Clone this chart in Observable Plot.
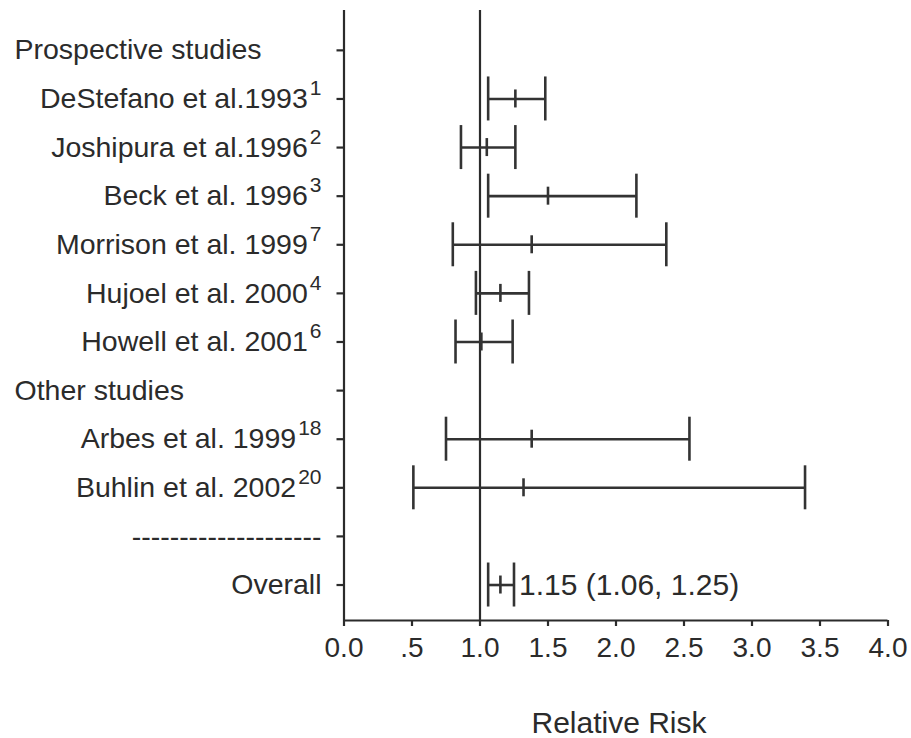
<!DOCTYPE html>
<html>
<head>
<meta charset="utf-8">
<script src="https://cdn.jsdelivr.net/npm/d3@7"></script>
<script src="https://cdn.jsdelivr.net/npm/@observablehq/plot@0.6"></script>
<style>
  html, body { margin: 0; padding: 0; background: #fff; }
  #chart { width: 911px; height: 738px; }
</style>
</head>
<body>
<div id="chart"></div>
<script>
// ---- Data ----
const rowLabels = [
  "Prospective studies",
  "DeStefano et al.1993",
  "Joshipura et al.1996",
  "Beck et al. 1996",
  "Morrison et al. 1999",
  "Hujoel et al. 2000",
  "Howell et al. 2001",
  "Other studies",
  "Arbes et al. 1999",
  "Buhlin et al. 2002",
  "--------------------",
  "Overall"
];
const rowRefs  = ["", "1", "2", "3", "7", "4", "6", "", "18", "20", "", ""];
const rowKinds = ["header", "study", "study", "study", "study", "study", "study",
                  "header", "study", "study", "sep", "overall"];
const rowRR = [null, 1.26, 1.05, 1.50, 1.38, 1.15, 1.01, null, 1.38, 1.32, null, 1.15];
const rowLo = [null, 1.06, 0.86, 1.06, 0.80, 0.97, 0.82, null, 0.75, 0.51, null, 1.06];
const rowHi = [null, 1.48, 1.26, 2.15, 2.37, 1.36, 1.24, null, 2.54, 3.39, null, 1.25];

const xTicks = [0, 0.5, 1, 1.5, 2, 2.5, 3, 3.5, 4];
const xTickLabels = ["0.0", ".5", "1.0", "1.5", "2.0", "2.5", "3.0", "3.5", "4.0"];
const xLabel = "Relative Risk";
const referenceRR = 1;
const yDomain = [-0.82, 11.73];

const rows = rowLabels.map((label, i) => ({
  row: i, label, ref: rowRefs[i], kind: rowKinds[i],
  rr: rowRR[i], lo: rowLo[i], hi: rowHi[i]
}));
const est = rows.filter(d => d.rr != null);
const headers = rows.filter(d => d.kind === "header");
const named = rows.filter(d => d.kind !== "header");
const overall = rows.filter(d => d.kind === "overall");
const xTickData = xTicks.map((v, i) => ({v, label: xTickLabels[i]}));

const ink = "#2b2b2b";
const barInk = "#333";
const font = "'Liberation Sans', Arial, sans-serif";

const chart = Plot.plot({
  width: 911,
  height: 738,
  marginLeft: 343.5,
  marginRight: 23.5,
  marginTop: 10,
  marginBottom: 118,
  style: {fontFamily: font, fontSize: "28px", color: ink, background: "#fff"},
  x: {domain: [0, 4], axis: null},
  y: {domain: yDomain, reverse: true, axis: null},
  marks: [
    // axis lines
    Plot.ruleX([0], {stroke: ink, strokeWidth: 2.2}),
    Plot.ruleY([yDomain[1]], {stroke: ink, strokeWidth: 2.2}),
    // reference line at RR = 1
    Plot.ruleX([referenceRR], {stroke: ink, strokeWidth: 2.2}),
    // y ticks (pointing left)
    Plot.ruleY(rows, {y: "row", x1: 0, x2: 0, insetLeft: -7, stroke: ink, strokeWidth: 2.2}),
    // x ticks (pointing down)
    Plot.ruleX(xTickData, {x: "v", y1: yDomain[1], y2: yDomain[1], insetBottom: -6, stroke: ink, strokeWidth: 2.2}),
    // x tick labels
    Plot.text(xTickData, {x: "v", text: "label", frameAnchor: "bottom", lineAnchor: "middle", dy: 28, fontSize: 28, fill: ink}),
    // CI lines
    Plot.ruleY(est, {y: "row", x1: "lo", x2: "hi", stroke: barInk, strokeWidth: 2.6}),
    // caps
    Plot.ruleX(est, {x: "lo", y1: "row", y2: "row", insetTop: -22, insetBottom: -22, stroke: barInk, strokeWidth: 2.6}),
    Plot.ruleX(est, {x: "hi", y1: "row", y2: "row", insetTop: -22, insetBottom: -22, stroke: barInk, strokeWidth: 2.6}),
    // point estimates
    Plot.ruleX(est, {x: "rr", y1: "row", y2: "row", insetTop: -9, insetBottom: -9, stroke: barInk, strokeWidth: 2.6}),
    // section headers
    Plot.text(headers, {y: "row", text: "label", frameAnchor: "left", lineAnchor: "middle", dx: -329.5, textAnchor: "start", fontSize: 28.5, fill: ink}),
    // study labels (with superscript references)
    Plot.text(named, {y: "row", text: d => d.ref ? d.label + "|" + d.ref : d.label, frameAnchor: "left", lineAnchor: "middle", dx: -22.5, textAnchor: "end", fontSize: 28.5, fill: ink}),
    // overall annotation
    Plot.text(overall, {x: "hi", y: "row", text: d => `${d.rr.toFixed(2)} (${d.lo.toFixed(2)}, ${d.hi.toFixed(2)})`, dx: 5, textAnchor: "start", fontSize: 30, fill: ink}),
    // x axis title
    Plot.text([xLabel], {frameAnchor: "bottom", lineAnchor: "middle", dy: 103, dx: 3, fontSize: 30, fill: ink})
  ]
});

// convert "label|ref" into label + superscript tspan
chart.querySelectorAll("text").forEach(t => {
  const s = t.textContent;
  if (s.includes("|")) {
    const [main, sup] = s.split("|");
    while (t.firstChild) t.removeChild(t.firstChild);
    t.appendChild(document.createTextNode(main));
    const ts = document.createElementNS("http://www.w3.org/2000/svg", "tspan");
    ts.setAttribute("font-size", "21");
    ts.setAttribute("dy", "-13");
    ts.setAttribute("dx", "2");
    ts.textContent = sup;
    t.appendChild(ts);
  }
});

document.getElementById("chart").appendChild(chart);
</script>
</body>
</html>
